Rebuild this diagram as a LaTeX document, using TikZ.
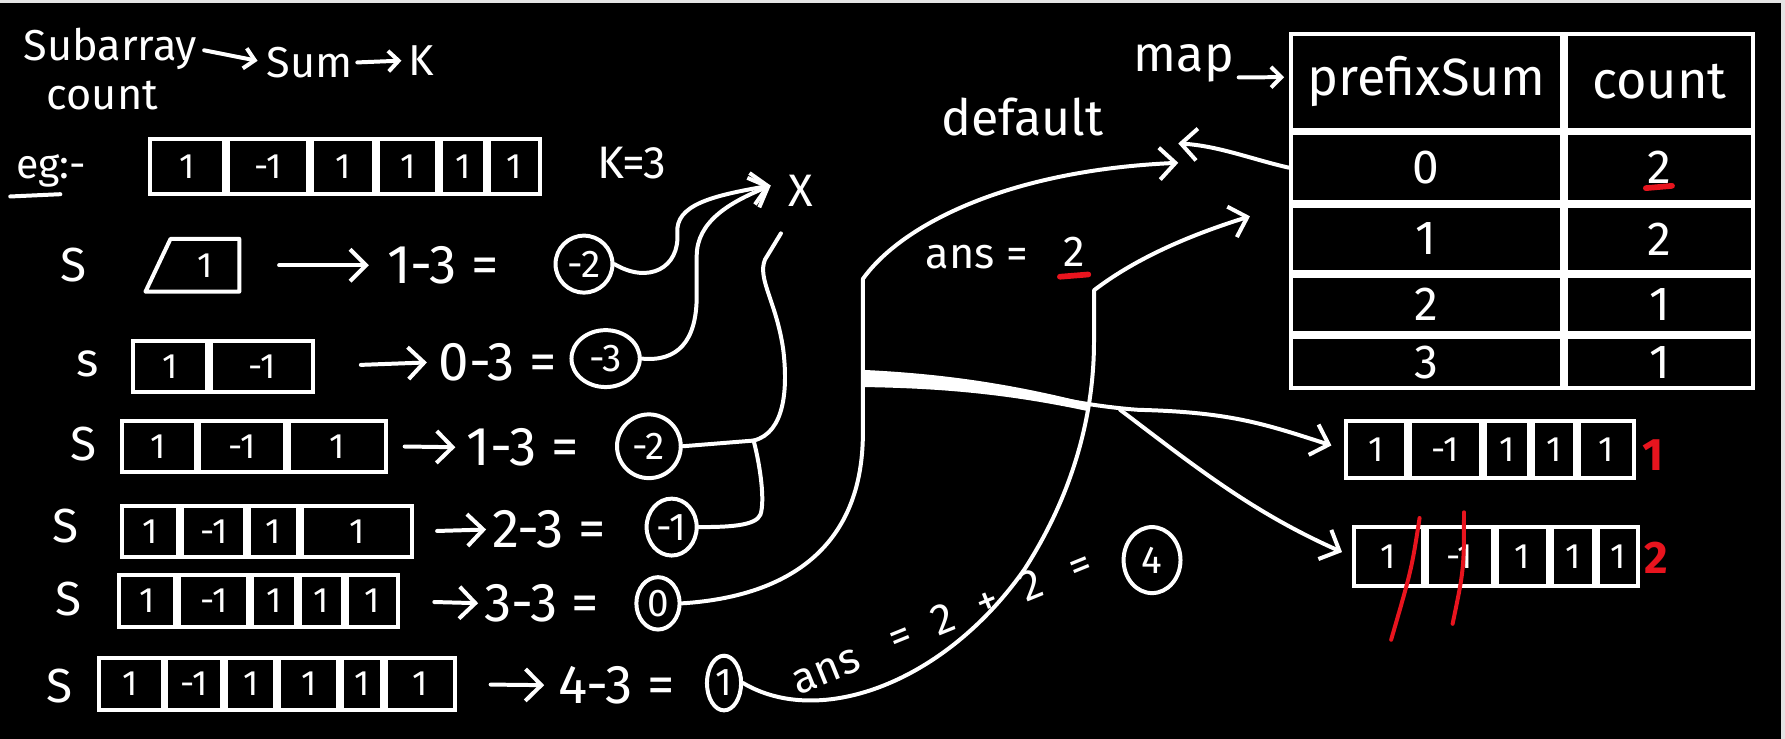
\documentclass[tikz,border=0pt]{standalone}
\usepackage{fontspec}
\setmainfont{Fira Sans}
\usetikzlibrary{arrows.meta,shapes.geometric}
\definecolor{redink}{HTML}{E8141E}
\definecolor{edgegray}{HTML}{E4E4E4}
\newcommand\fsz[1]{\fontsize{#1}{#1}\selectfont}
\begin{document}
\begin{tikzpicture}[x=1pt,y=-1pt,
  every node/.style={text=white, inner sep=0pt},
  stroke/.style={draw=white, line width=3.5pt, line cap=round, line join=round},
  harrow/.style={stroke, -{Straight Barb[length=14pt,width=28pt]}},
  sarrow/.style={stroke, -{Straight Barb[length=9pt,width=18pt]}},
  cell/.style={draw=white, line width=3.5pt, anchor=west, font=\fsz{31}, minimum height=#1},
  tcell/.style={draw=white, line width=3.5pt, anchor=north west, minimum height=#1},
  bubble/.style={draw=white, line width=3.5pt, ellipse, font=\fsz{34}},
  lbl/.style={font=\fsz{42}},
  eq/.style={font=\fsz{48}, anchor=west},
  rot/.style={font=\fsz{38}, rotate=22},
  redtxt/.style={text=redink, font=\bfseries\fsz{40}}
]
\useasboundingbox (0,0) rectangle (1568,649);
\fill[black] (0,0) rectangle (1568,649);
\fill[edgegray] (0,0) rectangle (1568,2.6);
\fill[edgegray] (1564.6,0) rectangle (1568,649);

% title
\node[lbl, font=\fsz{38}] (sub) at (97,43) {Subarray};
\node[lbl, font=\fsz{38}] (cnt) at (90,84) {count};
\node[lbl, font=\fsz{38}] (sum) at (272,55) {Sum};
\node[lbl, font=\fsz{38}] (kk) at (370,53) {K};
\draw[sarrow, shorten <=6pt, shorten >=8pt] (sub.east) -- (sum.west);
\draw[sarrow, shorten <=4pt, shorten >=6pt] (sum.east) -- (kk.west);

% example
\node[lbl, font=\fsz{36}] (eg) at (45,150) {eg:-};
\draw[stroke] ([xshift=-36pt,yshift=-8pt]eg.south) -- ([xshift=8pt,yshift=-6pt]eg.south);
\node[cell=48pt, minimum width=65pt] (t1) at (130,146) {1};
\node[cell=48pt, minimum width=70pt] (t2) at (t1.east) {-1};
\node[cell=48pt, minimum width=55pt] (t3) at (t2.east) {1};
\node[cell=48pt, minimum width=52pt] (t4) at (t3.east) {1};
\node[cell=48pt, minimum width=38pt] (t5) at (t4.east) {1};
\node[cell=48pt, minimum width=45pt] (t6) at (t5.east) {1};
\node[lbl, font=\fsz{40}] (k3) at (555,143) {K=3};
\node[lbl, font=\fsz{40}] (X) at (703,168) {X};
\coordinate (xin) at (677,163);
\coordinate (xbot) at (686,205);

% S labels
\node[lbl] (S1) at (65,233) {S};
\node[lbl] (S2) at (77,320) {s};
\node[lbl] (S3) at (73,390) {S};
\node[lbl] (S4) at (58,462) {S};
\node[lbl] (S5) at (60,526) {S};
\node[lbl] (S6) at (52,603) {S};

% row 1
\node[font=\fsz{31}, minimum width=60pt, minimum height=46pt] (r1) at (180,233) {1};
\draw[stroke] (r1.north west) -- (r1.north east) -- (r1.south east) -- ([xshift=-22pt]r1.south west) -- cycle;
% row 2
\node[cell=45pt, minimum width=65pt] (a1) at (115,322) {1};
\node[cell=45pt, minimum width=90pt] (a2) at (a1.east) {-1};
% row 3
\node[cell=45pt, minimum width=65pt] (b1) at (105,392) {1};
\node[cell=45pt, minimum width=75pt] (b2) at (b1.east) {-1};
\node[cell=45pt, minimum width=85pt] (b3) at (b2.east) {1};
% row 4
\node[cell=45pt, minimum width=50pt] (d1) at (105,467) {1};
\node[cell=45pt, minimum width=55pt] (d2) at (d1.east) {-1};
\node[cell=45pt, minimum width=43pt] (d3) at (d2.east) {1};
\node[cell=45pt, minimum width=97pt] (d4) at (d3.east) {1};
% row 5
\node[cell=45pt, minimum width=49pt] (f1) at (103,528) {1};
\node[cell=45pt, minimum width=61pt] (f2) at (f1.east) {-1};
\node[cell=45pt, minimum width=38pt] (f3) at (f2.east) {1};
\node[cell=45pt, minimum width=38pt] (f4) at (f3.east) {1};
\node[cell=45pt, minimum width=45pt] (f5) at (f4.east) {1};
% row 6
\node[cell=46pt, minimum width=56pt] (g1) at (85,601) {1};
\node[cell=46pt, minimum width=49pt] (g2) at (g1.east) {-1};
\node[cell=46pt, minimum width=43pt] (g3) at (g2.east) {1};
\node[cell=46pt, minimum width=52pt] (g4) at (g3.east) {1};
\node[cell=46pt, minimum width=35pt] (g5) at (g4.east) {1};
\node[cell=46pt, minimum width=60pt] (g6) at (g5.east) {1};

% equations
\node[eq] (e1) at (340,233) {1-3 =};
\node[eq] (e2) at (385,318) {0-3 =};
\node[eq] (e3) at (410,393) {1-3 =};
\node[eq] (e4) at (432,465) {2-3 =};
\node[eq] (e5) at (425,530) {3-3 =};
\node[eq] (e6) at (490,602) {4-3 =};

\draw[harrow, shorten <=35pt, shorten >=16pt] (r1.east) -- (e1.west);
\draw[harrow, shorten <=40pt, shorten >=10pt] (a2.east) -- (e2.west);
\draw[harrow, shorten <=15pt, shorten >=10pt] (b3.east) -- (e3.west);
\draw[harrow, shorten <=20pt, shorten >=5pt] (d4.east) -- (e4.west);
\draw[harrow, shorten <=30pt, shorten >=5pt] (f5.east) -- (e5.west);
\draw[harrow, shorten <=30pt, shorten >=12pt] (g6.east) -- (e6.west);

% circled results
\node[bubble, minimum width=50pt, minimum height=50pt] (c1) at (513,232) {-2};
\node[bubble, minimum width=60pt, minimum height=50pt] (c2) at (532,315) {-3};
\node[bubble, minimum width=56pt, minimum height=56pt] (c3) at (570,392) {-2};
\node[bubble, minimum width=44pt, minimum height=50pt] (c4) at (590,463) {-1};
\node[bubble, minimum width=38pt, minimum height=46pt] (c5) at (578,530) {0};
\node[bubble, minimum width=30pt, minimum height=48pt] (c6) at (636,600) {1};

% connectors to X
\draw[harrow] (c1.east) .. controls (570,250) and (597,235) .. (595,205) .. controls (593,180) and (625,172) .. (xin);
\draw[harrow] (c2.east) .. controls (595,318) and (612,300) .. (612,260) -- (612,225) .. controls (612,195) and (640,178) .. (xin);
\coordinate (junc) at (662,387);
\draw[stroke] (c3.east) -- (junc) .. controls (690,380) and (692,340) .. (688,307) .. controls (682,265) and (665,245) .. (672,228) -- (xbot);
\draw[stroke] (junc) .. controls (668,410) and (672,440) .. (668,452) .. controls (664,462) and (640,463) .. (c4.east);

% map table
\node[tcell=84pt, minimum width=238pt, font=\fsz{46}] (h1) at (1132,28) {prefixSum};
\node[tcell=84pt, minimum width=165pt, font=\fsz{46}] (h2) at (h1.north east) {count};
\node[tcell=60pt, minimum width=238pt, font=\fsz{42}] (p0) at (h1.south west) {0};
\node[tcell=60pt, minimum width=165pt, font=\fsz{42}] (q0) at (p0.north east) {2};
\node[tcell=58pt, minimum width=238pt, font=\fsz{42}] (p1) at (p0.south west) {1};
\node[tcell=58pt, minimum width=165pt, font=\fsz{42}] (q1) at (p1.north east) {2};
\node[tcell=50pt, minimum width=238pt, font=\fsz{42}] (p2) at (p1.south west) {2};
\node[tcell=50pt, minimum width=165pt, font=\fsz{42}] (q2) at (p2.north east) {1};
\node[tcell=45pt, minimum width=238pt, font=\fsz{42}] (p3) at (p2.south west) {3};
\node[tcell=45pt, minimum width=165pt, font=\fsz{42}] (q3) at (p3.north east) {1};
\draw[redink, line width=5pt, line cap=round] ([xshift=-12pt,yshift=-18pt]q0.center) -- ([xshift=11pt,yshift=-16pt]q0.center);

\node[lbl, font=\fsz{44}] (map) at (1040,56) {map};
\draw[sarrow, shorten <=4pt, shorten >=4pt] ([yshift=-12pt]map.east) -- ([yshift=4pt]h1.west);
\node[lbl, font=\fsz{44}] (dflt) at (898,103) {default};

% ans = 2
\node[font=\fsz{38}] (ansl) at (858,226) {ans =};
\node[font=\fsz{38}] (ansv) at (944,221) {2};
\draw[redink, line width=5pt, line cap=round] ([xshift=-13pt,yshift=-9pt]ansv.south) -- ([xshift=12pt,yshift=-7pt]ansv.south);

% arrows to default and table
\coordinate (tipD) at (1035,143);
\coordinate (tipL) at (1035,126);
\coordinate (tipT) at (1098,190);
\draw[harrow] (c5.east) .. controls (680,525) and (758,490) .. (758,380) -- (758,245) .. controls (790,200) and (880,150) .. (tipD);
\draw[harrow] (p0.west) .. controls (1100,140) and (1070,128) .. (tipL);
\draw[harrow] (c6.east) .. controls (720,640) and (830,600) .. (900,500) .. controls (945,430) and (961,360) .. (961,300) -- (961,255) .. controls (1000,225) and (1050,205) .. (tipT);

% bottom-right arrays
\node[cell=50pt, minimum width=52pt] (A1) at (1181,395) {1};
\node[cell=50pt, minimum width=63pt] (A2) at (A1.east) {-1};
\node[cell=50pt, minimum width=38pt] (A3) at (A2.east) {1};
\node[cell=50pt, minimum width=37pt] (A4) at (A3.east) {1};
\node[cell=50pt, minimum width=49pt] (A5) at (A4.east) {1};
\node[cell=52pt, minimum width=60pt] (B1) at (1188,489) {1};
\node[cell=52pt, minimum width=58pt] (B2) at (B1.east) {-1};
\node[cell=52pt, minimum width=45pt] (B3) at (B2.east) {1};
\node[cell=52pt, minimum width=37pt] (B4) at (B3.east) {1};
\node[cell=52pt, minimum width=35pt] (B5) at (B4.east) {1};
\node[redtxt] (cntA) at (1452,400) {1};
\node[redtxt] (cntB) at (1455,490) {2};
\draw[redink, line width=3.5pt, line cap=round] (1247,455) .. controls (1240,500) .. (1222,562);
\draw[redink, line width=3.5pt, line cap=round] (1286,450) .. controls (1286,500) .. (1276,548);

% thick line and branch
\coordinate (th0) at (760,332);
\coordinate (br) at (984,360);
\fill[white] (760,325) .. controls (820,328) and (880,335) .. (955,354) -- (955,361) .. controls (880,345) and (820,341) .. (760,340) -- cycle;
\draw[harrow, shorten >=12pt] (th0) .. controls (880,335) and (930,355) .. (1000,360) .. controls (1080,362) and (1110,372) .. (A1.west);
\draw[harrow, shorten >=10pt] (br) .. controls (1050,410) and (1100,450) .. (B1.west);

% ans = 2 + 2 = 4
\node[rot] (w1) at (726,590) {ans};
\node[rot] (w2) at (792,562) {=};
\node[rot] (w3) at (828,544) {2};
\node[rot] (w4) at (868,531) {+};
\node[rot] (w5) at (906,514) {2};
\node[rot] (w6) at (950,500) {=};
\node[bubble, minimum width=50pt, minimum height=58pt] (four) at (1012,492) {4};
\end{tikzpicture}
\end{document}
